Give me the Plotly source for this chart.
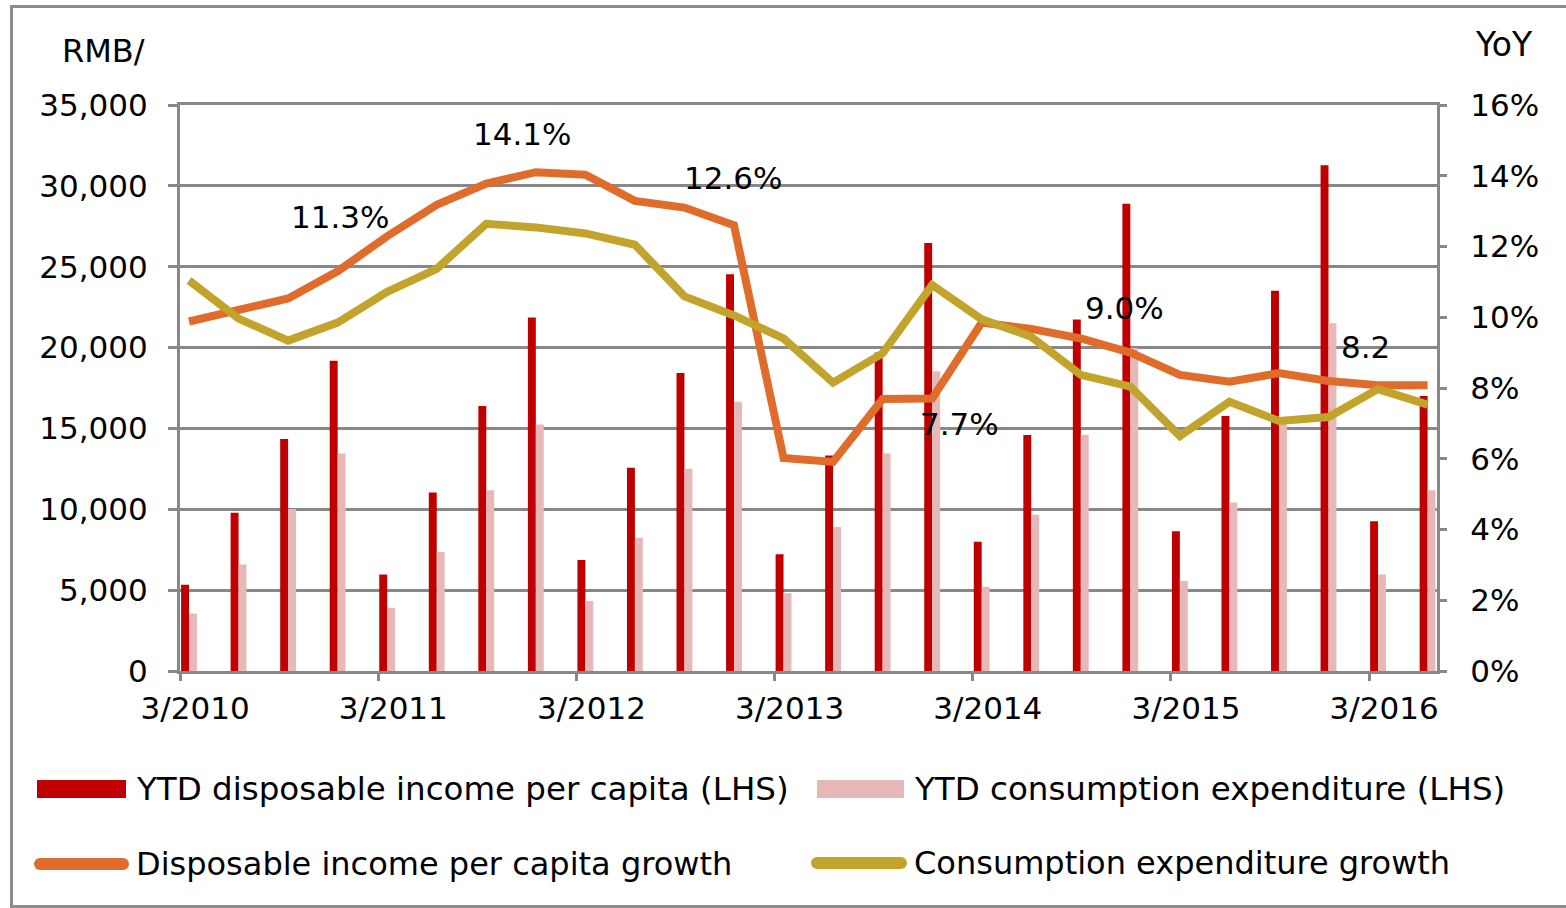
import plotly.graph_objects as go

# ---------------- data ----------------
quarters = ["3/2010", "6/2010", "9/2010", "12/2010",
            "3/2011", "6/2011", "9/2011", "12/2011",
            "3/2012", "6/2012", "9/2012", "12/2012",
            "3/2013", "6/2013", "9/2013", "12/2013",
            "3/2014", "6/2014", "9/2014", "12/2014",
            "3/2015", "6/2015", "9/2015", "12/2015",
            "3/2016", "6/2016"]
year_ticks = ["3/2010", "3/2011", "3/2012", "3/2013", "3/2014", "3/2015", "3/2016"]

income = [5330, 9780, 14350, 19180,
          5970, 11040, 16390, 21860,
          6870, 12570, 18420, 24530,
          7220, 13330, 19700, 26470,
          8000, 14590, 21740, 28890,
          8640, 15770, 23510, 31280,
          9260, 17000]
consumption = [3550, 6580, 10020, 13450,
               3910, 7360, 11180, 15250,
               4330, 8240, 12500, 16650,
               4810, 8900, 13450, 18540,
               5210, 9660, 14590, 19970,
               5570, 10420, 15500, 21500,
               5970, 11180]
income_growth = [9.88, 10.21, 10.53, 11.3,
                 12.29, 13.18, 13.78, 14.1,
                 14.03, 13.29, 13.10, 12.6,
                 6.02, 5.91, 7.69, 7.7,
                 9.85, 9.67, 9.40, 9.0,
                 8.37, 8.18, 8.42, 8.2,
                 8.08, 8.08]
consumption_growth = [11.04, 9.96, 9.34, 9.85,
                      10.72, 11.37, 12.64, 12.54,
                      12.37, 12.05, 10.59, 10.05,
                      9.40, 8.15, 8.98, 10.91,
                      9.94, 9.45, 8.37, 8.04,
                      6.64, 7.61, 7.07, 7.18,
                      7.97, 7.53]

label_quarters = ["12/2010", "12/2011", "12/2012", "12/2013", "12/2014", "12/2015"]
label_texts = ["11.3%", "14.1%", "12.6%", "7.7%", "9.0%", "8.2"]

names = ["YTD disposable income per capita (LHS)",
         "YTD consumption expenditure (LHS)",
         "Disposable income per capita growth",
         "Consumption expenditure growth"]

# ---------------- style ----------------
C_INC = "#C00000"
C_CON = "#E6B8B7"
C_INC_G = "#E06C2C"
C_CON_G = "#C2A42C"
GRID = "#888888"
FONT = "DejaVu Sans"

W, H = 1566, 908
ML, MR, MT, MB = 180, 129, 105, 237
PW, PH = W - ML - MR, H - MT - MB

def px(x):
    return (x - ML) / PW

def py(y):
    return (H - MB - y) / PH

xpos = list(range(len(quarters)))
BW = 0.16

fig = go.Figure()
fig.add_trace(go.Bar(x=xpos, y=income, name=names[0], marker_color=C_INC,
                     width=BW, offset=-BW, marker_line_width=0))
fig.add_trace(go.Bar(x=xpos, y=consumption, name=names[1], marker_color=C_CON,
                     width=BW, offset=0, marker_line_width=0))
fig.add_trace(go.Scatter(x=xpos, y=income_growth, name=names[2], mode="lines",
                         line=dict(color=C_INC_G, width=8), yaxis="y2"))
fig.add_trace(go.Scatter(x=xpos, y=consumption_growth, name=names[3], mode="lines",
                         line=dict(color=C_CON_G, width=8), yaxis="y2"))

annotations = []
label_shifts = [(2, 54), (-14, 38), (-1, 47), (27, -25), (-6, 45), (37, 34)]
for q, t, (dx, dy) in zip(label_quarters, label_texts, label_shifts):
    i = quarters.index(q)
    annotations.append(dict(x=xpos[i], y=income_growth[i], xref="x", yref="y2",
                            text=t, showarrow=False, xshift=dx, yshift=dy,
                            xanchor="center", yanchor="middle",
                            font=dict(family=FONT, size=31, color="black")))

annotations.append(dict(x=px(103), y=py(51), xref="paper", yref="paper", text="RMB/",
                        xanchor="center", yanchor="middle", showarrow=False,
                        font=dict(family=FONT, size=32, color="black")))
annotations.append(dict(x=px(1504), y=py(45), xref="paper", yref="paper", text="YoY",
                        xanchor="center", yanchor="middle", showarrow=False,
                        font=dict(family=FONT, size=33, color="black")))

shapes = []
# custom legend
legend_items = [
    (names[0], "rect", C_INC, 37, 126, 789, 134, 32.5),
    (names[1], "rect", C_CON, 817, 904, 789, 912, 32.5),
    (names[2], "line", C_INC_G, 35, 128, 864, 134, 32),
    (names[3], "line", C_CON_G, 812, 906, 863, 912, 32),
]
for name, kind, col, x0, x1, yc, tx, fs in legend_items:
    if kind == "rect":
        shapes.append(dict(type="rect", xref="paper", yref="paper",
                           x0=px(x0), x1=px(x1), y0=py(yc - 9), y1=py(yc + 9),
                           fillcolor=col, line=dict(width=0)))
    else:
        shapes.append(dict(type="line", xref="paper", yref="paper",
                           x0=px(x0 + 5), x1=px(x1 - 5), y0=py(yc), y1=py(yc),
                           line=dict(color=col, width=12)))
        for cx in (x0 + 5, x1 - 5):
            shapes.append(dict(type="circle", xref="paper", yref="paper",
                               x0=px(cx - 6), x1=px(cx + 6), y0=py(yc - 6), y1=py(yc + 6),
                               fillcolor=col, line=dict(width=0)))
    annotations.append(dict(x=px(tx), y=py(yc), xref="paper", yref="paper", text=name,
                            xanchor="left", yanchor="middle", showarrow=False,
                            font=dict(family=FONT, size=fs, color="black")))

# outer frame
shapes.append(dict(type="rect", xref="paper", yref="paper",
                   x0=px(11.5), x1=px(1590), y0=py(6.5), y1=py(906.5),
                   line=dict(color="#8c8c8c", width=3), fillcolor="rgba(0,0,0,0)",
                   layer="below"))

tickvals = [xpos[quarters.index(q)] - 0.18 for q in year_ticks]

fig.update_layout(
    width=W, height=H,
    margin=dict(l=ML, r=MR, t=MT, b=MB, pad=0),
    paper_bgcolor="white", plot_bgcolor="white",
    showlegend=False,
    barmode="overlay",
    font=dict(family=FONT, size=31, color="black"),
    xaxis=dict(range=[-0.182, 25.19], tickmode="array", tickvals=tickvals,
               ticktext=year_ticks, showgrid=False, zeroline=False,
               showline=True, mirror=True, linecolor=GRID, linewidth=3,
               ticks="outside", ticklen=7, tickwidth=3, tickcolor=GRID,
               ticklabelshift=15, ticklabelstandoff=1,
               tickfont=dict(family=FONT, size=31, color="black")),
    yaxis=dict(range=[0, 35000], dtick=5000, tickformat=",", showgrid=True,
               gridcolor=GRID, gridwidth=3, zeroline=False,
               showline=True, linecolor=GRID, linewidth=3,
               ticks="outside", ticklen=9, tickwidth=3, tickcolor=GRID,
               ticklabelstandoff=14,
               tickfont=dict(family=FONT, size=31, color="black")),
    yaxis2=dict(range=[0, 16], dtick=2, ticksuffix="%", overlaying="y", side="right",
                showgrid=False, zeroline=False,
                showline=True, linecolor=GRID, linewidth=3,
                ticks="outside", ticklen=7, tickwidth=3, tickcolor=GRID,
                ticklabelstandoff=17,
                tickfont=dict(family=FONT, size=31, color="black")),
    annotations=annotations,
    shapes=shapes,
)

fig.write_html("out.html", config={"displayModeBar": False},
               post_script="document.body.style.margin='0px';")
